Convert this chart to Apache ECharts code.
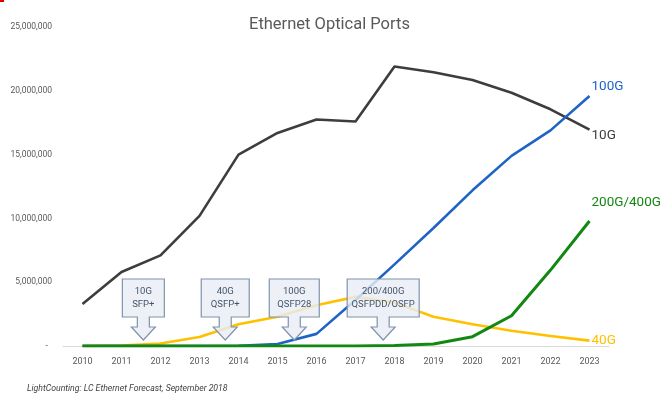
<!DOCTYPE html>
<html>
<head>
<meta charset="utf-8">
<title>Ethernet Optical Ports</title>
<script src="https://cdn.jsdelivr.net/npm/echarts@6/dist/echarts.min.js"></script>
<style>
  html, body { margin: 0; padding: 0; background: #fff; }
  #chart { width: 664px; height: 394px; }
</style>
</head>
<body>
<div id="chart"></div>
<script>
// Shipments of Ethernet optical ports by speed (units)
const years = ['2010', '2011', '2012', '2013', '2014', '2015', '2016',
               '2017', '2018', '2019', '2020', '2021', '2022', '2023'];
const ports10G = [3300000, 5800000, 7100000, 10200000, 15000000, 16700000, 17750000,
                  17600000, 21900000, 21450000, 20850000, 19850000, 18550000, 16950000];
const ports40G = [0, 30000, 200000, 700000, 1700000, 2300000, 3200000,
                  3850000, 3400000, 2300000, 1700000, 1200000, 780000, 420000];
const ports100G = [0, 0, 0, 0, 20000, 150000, 950000,
                   3600000, 6400000, 9250000, 12200000, 14900000, 16900000, 19600000];
const ports200G400G = [0, 0, 0, 0, 0, 0, 0,
                       0, 30000, 160000, 730000, 2370000, 5950000, 9800000];
const yTicks = [0, 5000000, 10000000, 15000000, 20000000, 25000000];

// Form-factor introductions, placed along the year axis (fractional index)
const calloutAt = [1.56, 3.66, 5.43, 7.71];
const calloutText = ['10G\nSFP+', '40G\nQSFP+', '100G\nQSFP28', '200/400G\nQSFPDD/OSFP'];

const FONT = 'Roboto, "Liberation Sans", sans-serif';
const GREY_TEXT = '#595959';

const measureCtx = document.createElement('canvas').getContext('2d');
function textWidth(str, size) {
  measureCtx.font = size + 'px ' + FONT;
  return Math.max.apply(null, str.split('\n').map(s => measureCtx.measureText(s).width));
}

function renderCallout(params, api) {
  const pos = api.value(0);
  const i0 = Math.floor(pos);
  const f = pos - i0;
  const a = api.coord([i0, 0]);
  const b = api.coord([i0 + 1, 0]);
  const cx = a[0] + (b[0] - a[0]) * f;
  const base = a[1];
  const label = calloutText[params.dataIndex];
  const fs = 9.5;
  const half = Math.round((textWidth(label, fs) * 0.7 + 27) / 2);
  const tip = base - 6;
  const headTop = tip - 13;
  const boxBottom = headTop - 10;
  const boxTop = boxBottom - 38;
  const headHalf = 12, stemHalf = 6;
  const pts = [
    [cx - half, boxTop], [cx + half, boxTop], [cx + half, boxBottom],
    [cx + stemHalf, boxBottom], [cx + stemHalf, headTop], [cx + headHalf, headTop],
    [cx, tip], [cx - headHalf, headTop], [cx - stemHalf, headTop],
    [cx - stemHalf, boxBottom], [cx - half, boxBottom]
  ];
  return {
    type: 'group',
    children: [
      {
        type: 'polygon',
        shape: { points: pts },
        style: { fill: 'rgba(233,237,244,0.82)', stroke: '#8093ad', lineWidth: 1.2 }
      },
      {
        type: 'text',
        x: cx,
        y: (boxTop + boxBottom) / 2,
        style: {
          text: label, fill: '#44546a', fontSize: fs, fontFamily: FONT,
          align: 'center', verticalAlign: 'middle', lineHeight: 12.5
        }
      }
    ]
  };
}

function lineSeries(name, data, color, width, labelOffset) {
  return {
    name: name,
    type: 'line',
    data: data,
    symbol: 'none',
    smooth: false,
    lineStyle: { color: color, width: width },
    itemStyle: { color: color },
    endLabel: {
      show: true,
      formatter: name,
      color: color,
      fontSize: 13.5,
      fontFamily: FONT,
      distance: 2,
      offset: labelOffset
    },
    emphasis: { disabled: true }
  };
}

const chart = echarts.init(document.getElementById('chart'), null, { renderer: 'canvas' });
chart.setOption({
  animation: false,
  backgroundColor: '#ffffff',
  title: {
    text: 'Ethernet Optical Ports',
    left: 244,
    top: 11,
    textStyle: { color: GREY_TEXT, fontSize: 16.5, fontWeight: 'normal', fontFamily: FONT }
  },
  grid: { left: 63, right: 55, top: 27, bottom: 48 },
  xAxis: {
    type: 'category',
    data: years,
    boundaryGap: true,
    axisLine: { show: true, lineStyle: { color: '#d9d9d9', width: 1 } },
    axisTick: { show: false },
    axisLabel: { color: GREY_TEXT, fontSize: 9, fontFamily: FONT, margin: 11, interval: 0 },
    splitLine: { show: false }
  },
  yAxis: {
    type: 'value',
    min: yTicks[0],
    max: yTicks[yTicks.length - 1],
    interval: yTicks[1] - yTicks[0],
    axisLine: { show: false },
    axisTick: { show: false },
    splitLine: { show: false },
    axisLabel: {
      color: GREY_TEXT, fontSize: 8.5, fontFamily: FONT, margin: 11,
      formatter: v => v === 0 ? '-  ' : v.toLocaleString('en-US')
    }
  },
  series: [
    lineSeries('10G', ports10G, '#3d3d3d', 2.6, [0, 6]),
    lineSeries('40G', ports40G, '#ffc000', 2.6, [0, 0]),
    lineSeries('100G', ports100G, '#1f63c6', 2.6, [0, -9]),
    lineSeries('200G/400G', ports200G400G, '#118811', 3, [0, -18]),
    {
      type: 'custom',
      name: 'callouts',
      silent: true,
      clip: false,
      z: 5,
      data: calloutAt.map(p => [p, 0]),
      encode: { x: 0, y: 1 },
      renderItem: renderCallout
    }
  ],
  graphic: [
    { type: 'rect', left: 0, top: 0, shape: { width: 4, height: 2 }, style: { fill: '#e00000' } },
    {
      type: 'text', left: 27, top: 384,
      style: {
        text: 'LightCounting: LC Ethernet Forecast, September 2018',
        fill: '#404040', fontSize: 8.7, fontStyle: 'italic', fontFamily: FONT
      }
    }
  ]
});
</script>
</body>
</html>
